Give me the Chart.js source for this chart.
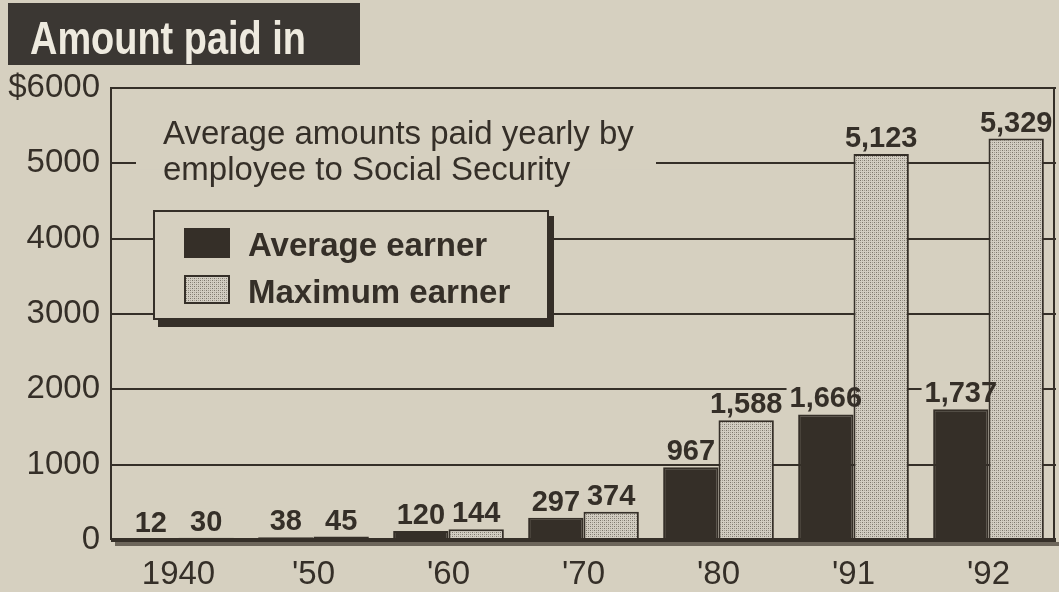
<!DOCTYPE html>
<html>
<head>
<meta charset="utf-8">
<script src="https://cdn.jsdelivr.net/npm/chart.js@4.4.1/dist/chart.umd.min.js"></script>
<style>
  html, body { margin: 0; padding: 0; background: #d6d0c0; }
  #wrap { width: 1059px; height: 592px; }
</style>
</head>
<body>
<div id="wrap"><canvas id="chart" width="1059" height="592"></canvas></div>
<script>
const years = ['1940', "'50", "'60", "'70", "'80", "'91", "'92"];
const averageEarner = [12, 38, 120, 297, 967, 1666, 1737];
const maximumEarner = [30, 45, 144, 374, 1588, 5123, 5329];
const yMax = 6000;
const yStep = 1000;
const seriesNames = ['Average earner', 'Maximum earner'];

const PAPER = '#d6d0c0';
const INK = '#352f28';
const FONT = "'Liberation Sans', Arial, Helvetica, sans-serif";

// stippled grey fill for the maximum earner bars
function stipple() {
  const c = document.createElement('canvas');
  c.width = 4; c.height = 4;
  const g = c.getContext('2d');
  g.fillStyle = '#d2cdc2';
  g.fillRect(0, 0, 4, 4);
  g.fillStyle = '#7c766b';
  g.fillRect(0, 0, 1, 1);
  g.fillRect(2, 2, 1, 1);
  g.fillStyle = '#a39d91';
  g.fillRect(2, 0, 1, 1);
  g.fillRect(0, 2, 1, 1);
  return document.getElementById('chart').getContext('2d').createPattern(c, 'repeat');
}
const lightFill = stipple();

const decorations = {
  id: 'decorations',
  beforeDraw(chart) {
    const ctx = chart.ctx;
    ctx.save();
    ctx.fillStyle = PAPER;
    ctx.fillRect(0, 0, chart.width, chart.height);
    ctx.restore();
  },
  beforeDatasetsDraw(chart) {
    const ctx = chart.ctx;
    ctx.save();
    ctx.fillStyle = PAPER;
    // gap in the 5000 line where the note sits
    const y5 = chart.scales.y.getPixelForValue(5000);
    ctx.fillRect(136, y5 - 6, 520, 12);
    // clear grid lines behind value labels
    ctx.font = 'bold 29px ' + FONT;
    chart.data.datasets.forEach((ds, di) => {
      chart.getDatasetMeta(di).data.forEach((bar, i) => {
        const t = ds.data[i].toLocaleString('en-US');
        const w = ctx.measureText(t).width;
        ctx.fillRect(bar.x - w / 2 - 3, bar.y - 29, w + 6, 24);
      });
    });
    ctx.restore();
  },
  afterDatasetsDraw(chart) {
    const ctx = chart.ctx;
    const area = chart.chartArea;
    ctx.save();
    // value labels
    ctx.font = 'bold 29px ' + FONT;
    ctx.fillStyle = INK;
    ctx.textAlign = 'center';
    ctx.textBaseline = 'alphabetic';
    chart.data.datasets.forEach((ds, di) => {
      chart.getDatasetMeta(di).data.forEach((bar, i) => {
        ctx.fillText(ds.data[i].toLocaleString('en-US'), bar.x, bar.y - 7);
      });
    });
    // heavy base line with shadow
    ctx.fillStyle = '#6d665b';
    ctx.fillRect(area.left + 4, area.bottom + 2, area.right - area.left, 4);
    ctx.fillStyle = INK;
    ctx.fillRect(area.left, area.bottom - 2, area.right - area.left, 4);
    // right frame edge
    ctx.fillRect(area.right - 3, area.top, 2, area.bottom - area.top);
    ctx.restore();
  },
  afterDraw(chart) {
    const ctx = chart.ctx;
    ctx.save();
    // title block
    ctx.fillStyle = '#3b3733';
    ctx.fillRect(8, 3, 352, 62);
    ctx.fillStyle = '#eeeadf';
    ctx.font = "bold 46px 'Liberation Sans Narrow', 'Arial Narrow', " + FONT;
    const tw = ctx.measureText('Amount paid in').width;
    ctx.translate(30, 54);
    ctx.scale(276 / tw, 1);
    ctx.fillText('Amount paid in', 0, 0);
    ctx.restore();

    ctx.save();
    // note
    ctx.fillStyle = INK;
    ctx.font = '33px ' + FONT;
    ctx.fillText('Average amounts paid yearly by', 163, 144);
    ctx.fillText('employee to Social Security', 163, 180);

    // legend box with drop shadow
    ctx.fillStyle = INK;
    ctx.fillRect(158, 216, 396, 111);
    ctx.fillStyle = PAPER;
    ctx.fillRect(153, 210, 396, 110);
    ctx.strokeStyle = INK;
    ctx.lineWidth = 2;
    ctx.strokeRect(154, 211, 394, 108);

    ctx.fillStyle = INK;
    ctx.fillRect(184, 228, 46, 30);
    ctx.fillStyle = lightFill;
    ctx.fillRect(184, 275, 46, 29);
    ctx.strokeRect(185, 276, 44, 27);

    ctx.fillStyle = INK;
    ctx.font = 'bold 33px ' + FONT;
    ctx.fillText(seriesNames[0], 248, 256);
    ctx.fillText(seriesNames[1], 248, 303);
    ctx.restore();
  }
};

new Chart(document.getElementById('chart'), {
  type: 'bar',
  data: {
    labels: years,
    datasets: [
      {
        label: seriesNames[0],
        data: averageEarner,
        backgroundColor: INK,
        borderColor: INK,
        borderWidth: 2
      },
      {
        label: seriesNames[1],
        data: maximumEarner,
        backgroundColor: lightFill,
        borderColor: INK,
        borderWidth: 2
      }
    ]
  },
  options: {
    responsive: false,
    animation: false,
    devicePixelRatio: 1,
    layout: { padding: { top: 88, right: 3, left: 0, bottom: 0 } },
    datasets: { bar: { barPercentage: 1.0, categoryPercentage: 0.82 } },
    plugins: {
      legend: { display: false },
      title: { display: false },
      tooltip: { enabled: false }
    },
    scales: {
      x: {
        afterFit(scale) { scale.height = 52; },
        grid: { display: false, drawTicks: false },
        border: { display: false },
        ticks: { color: INK, font: { family: FONT, size: 33 }, padding: 15 }
      },
      y: {
        min: 0,
        max: yMax,
        afterFit(scale) { scale.width = 111; },
        grid: {
          drawTicks: false,
          color: INK,
          lineWidth: (c) => (c.tick && c.tick.value === 0 ? 0 : 2)
        },
        border: { display: true, color: INK, width: 2 },
        ticks: {
          stepSize: yStep,
          color: INK,
          padding: 11,
          font: { family: FONT, size: 33 },
          callback: (v) => (v === yMax ? '$' + v : String(v))
        }
      }
    }
  },
  plugins: [decorations]
});
</script>
</body>
</html>
